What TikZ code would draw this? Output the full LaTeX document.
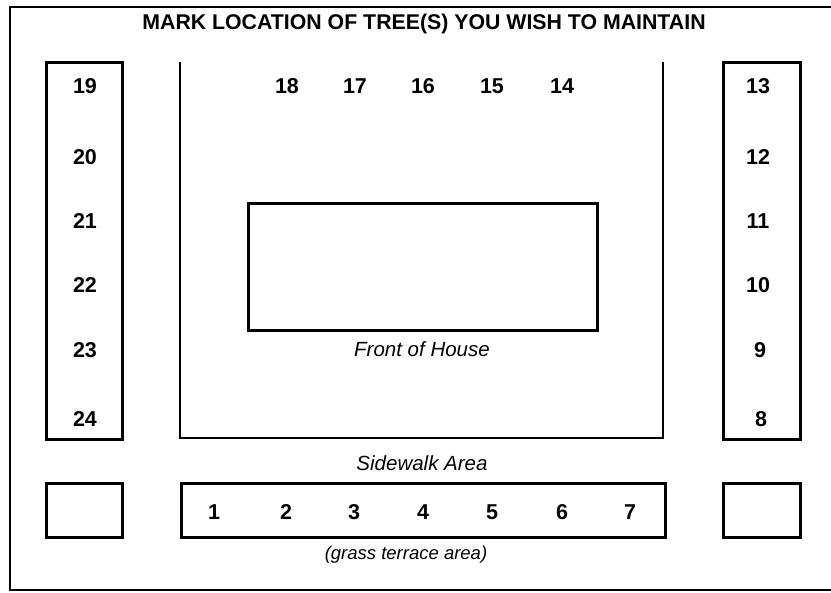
\documentclass[tikz,border=0pt]{standalone}
\usepackage{fontspec}
\setmainfont{Liberation Sans}
\begin{document}
\begin{tikzpicture}[x=1pt,y=-1pt,
  line/.style={line width=2.6pt},
  boxnode/.style={draw,line width=2.6pt,inner sep=0pt,anchor=north west},
  num/.style={font=\bfseries\fontsize{21.5}{24}\selectfont,inner sep=0pt,anchor=base},
  lbl/.style={font=\itshape\fontsize{20.5}{24}\selectfont,inner sep=0pt,anchor=base}]
\useasboundingbox (0,0) rectangle (831,593);
% outer frame
\draw[line] (831,7) -- (10,7) -- (10,590) -- (831,590);
% title
\node[font=\bfseries\fontsize{21.3}{24}\selectfont,inner sep=0pt,anchor=base] (title) at (424,30) {MARK LOCATION OF TREE(S) YOU WISH TO MAINTAIN};
% side boxes
\node[boxnode,minimum width=76pt,minimum height=377pt] (leftbox) at (45,61) {};
\node[boxnode,minimum width=77pt,minimum height=377pt] (rightbox) at (722,61) {};
% U-shaped yard
\coordinate (ytl) at (180,62);
\coordinate (ybl) at (180,438);
\coordinate (ybr) at (663,438);
\coordinate (ytr) at (663,62);
\draw[line] (ytl) -- (ybl) -- (ybr) -- (ytr);
% house
\node[boxnode,minimum width=349pt,minimum height=127pt] (house) at (247,202) {};
\node[lbl] (houselbl) at (422,357) {Front of House};
\node[lbl] (sidewalk) at (422,471) {Sidewalk Area};
% bottom boxes
\node[boxnode,minimum width=76pt,minimum height=54pt] (blbox) at (45,482) {};
\node[boxnode,minimum width=484pt,minimum height=54pt] (bmbox) at (180,482) {};
\node[boxnode,minimum width=77pt,minimum height=54pt] (brbox) at (722,482) {};
\node[font=\itshape\fontsize{18.5}{22}\selectfont,inner sep=0pt,anchor=base] (grass) at (406,560) {(grass terrace area)};
% left numbers
\node[num] (n19) at (85,94) {19};
\node[num] (n20) at (85,165) {20};
\node[num] (n21) at (85,229) {21};
\node[num] (n22) at (85,293) {22};
\node[num] (n23) at (85,358) {23};
\node[num] (n24) at (85,427) {24};
% right numbers
\node[num] (n13) at (758,94) {13};
\node[num] (n12) at (758,165) {12};
\node[num] (n11) at (758,229) {11};
\node[num] (n10) at (758,293) {10};
\node[num] (n9) at (760,358) {9};
\node[num] (n8) at (761,427) {8};
% top numbers
\node[num] (n18) at (287,94) {18};
\node[num] (n17) at (355,94) {17};
\node[num] (n16) at (423,94) {16};
\node[num] (n15) at (492,94) {15};
\node[num] (n14) at (562,94) {14};
% bottom numbers
\node[num] (n1) at (214,520) {1};
\node[num] (n2) at (286,520) {2};
\node[num] (n3) at (354,520) {3};
\node[num] (n4) at (423,520) {4};
\node[num] (n5) at (492,520) {5};
\node[num] (n6) at (562,520) {6};
\node[num] (n7) at (630,520) {7};
\end{tikzpicture}
\end{document}
